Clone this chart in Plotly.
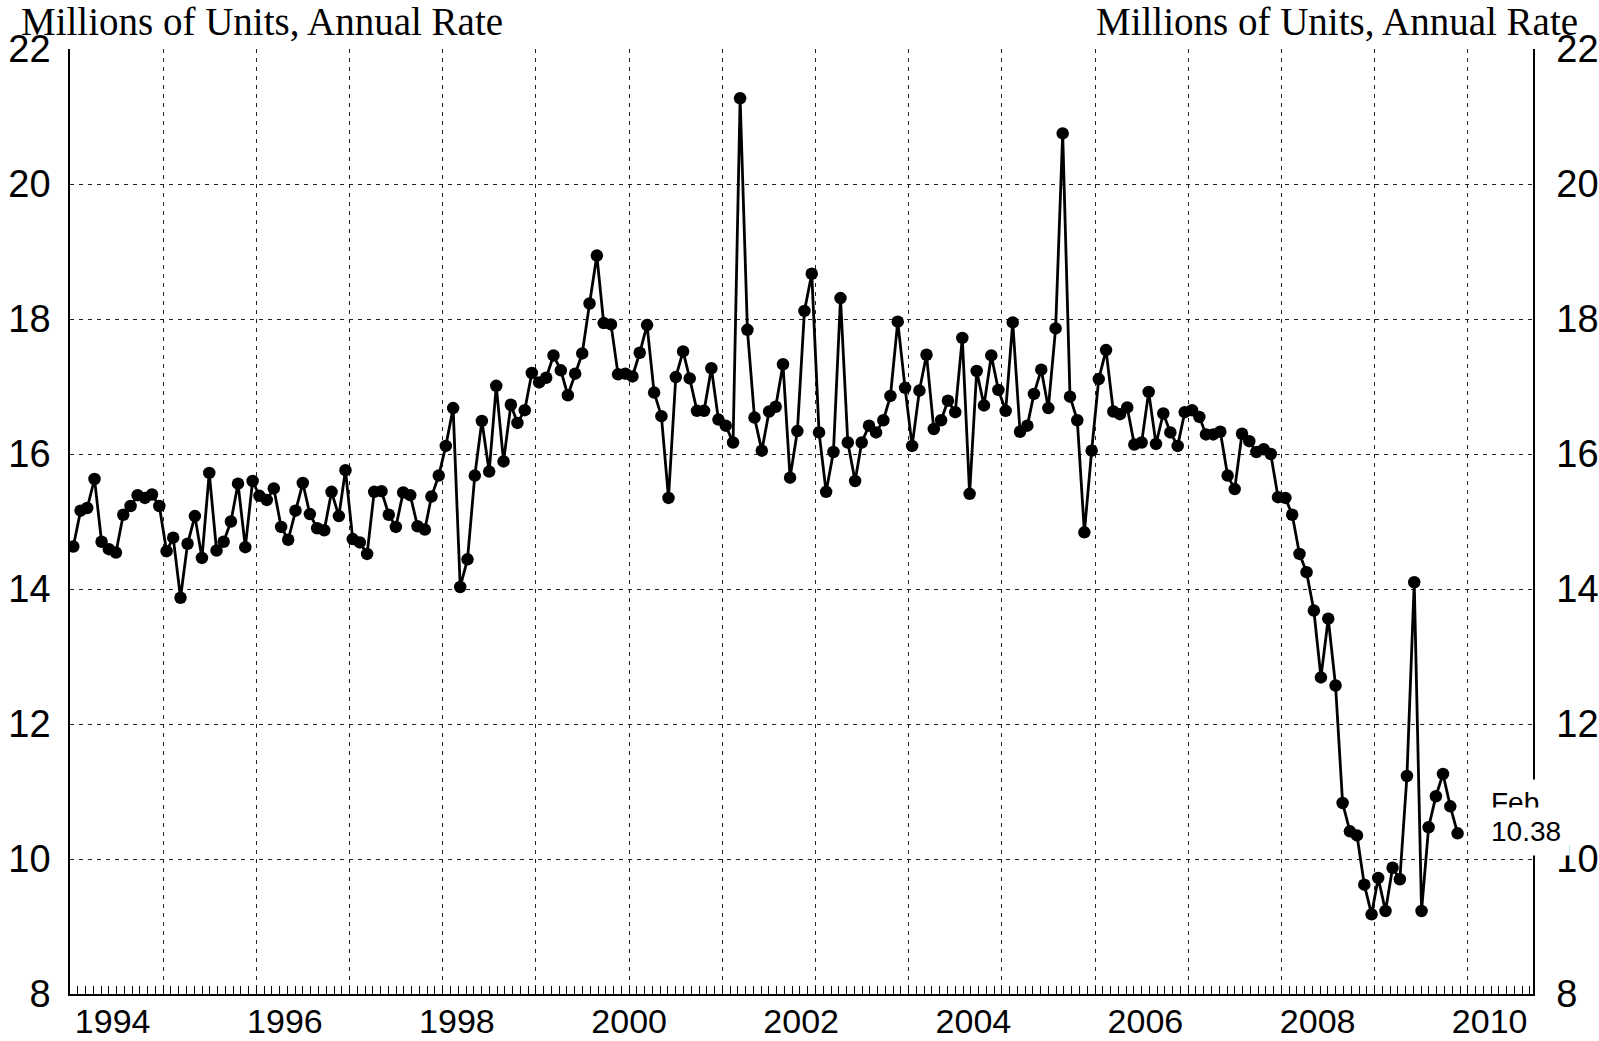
import plotly.graph_objects as go
import pandas as pd

# ---- data (monthly, Jan 1994 - Feb 2010) ----
start_month = "1994-01-01"
sales = [
    14.63, 15.16, 15.20, 15.63, 14.70, 14.59, 14.54, 15.10, 15.23, 15.39, 15.35, 15.40,
    15.23, 14.56, 14.76, 13.87, 14.67, 15.08, 14.46, 15.72, 14.57, 14.70, 15.00, 15.56,
    14.62, 15.60, 15.38, 15.32, 15.49, 14.92, 14.73, 15.16, 15.57, 15.11, 14.90, 14.87,
    15.44, 15.08, 15.76, 14.74, 14.69, 14.52, 15.44, 15.45, 15.10, 14.92, 15.43, 15.39,
    14.93, 14.88, 15.37, 15.68, 16.12, 16.68, 14.03, 14.44, 15.68, 16.49, 15.74, 17.01,
    15.89, 16.73, 16.46, 16.65, 17.20, 17.06, 17.13, 17.46, 17.24, 16.87, 17.19, 17.49,
    18.23, 18.94, 17.94, 17.92, 17.18, 17.19, 17.15, 17.50, 17.91, 16.91, 16.56, 15.35,
    17.14, 17.52, 17.12, 16.64, 16.64, 17.27, 16.51, 16.42, 16.17, 21.27, 17.84, 16.54,
    16.05, 16.63, 16.70, 17.33, 15.65, 16.34, 18.12, 18.67, 16.32, 15.44, 16.03, 18.31,
    16.17, 15.60, 16.17, 16.42, 16.32, 16.50, 16.86, 17.96, 16.98, 16.12, 16.94, 17.47,
    16.37, 16.50, 16.79, 16.62, 17.72, 15.41, 17.23, 16.72, 17.46, 16.95, 16.64, 17.95,
    16.33, 16.42, 16.89, 17.25, 16.68, 17.86, 20.75, 16.85, 16.50, 14.84, 16.05, 17.11,
    17.54, 16.63, 16.59, 16.69, 16.14, 16.17, 16.92, 16.15, 16.60, 16.32, 16.12, 16.62,
    16.65, 16.55, 16.29, 16.29, 16.33, 15.68, 15.48, 16.30, 16.19, 16.03, 16.07, 16.00,
    15.36, 15.35, 15.10, 14.52, 14.25, 13.68, 12.69, 13.56, 12.57, 10.83, 10.41, 10.35,
    9.62, 9.18, 9.72, 9.23, 9.87, 9.70, 11.23, 14.10, 9.23, 10.47, 10.93, 11.26,
    10.78, 10.38,
]
year_labels = ["1994", "1996", "1998", "2000", "2002", "2004", "2006", "2008", "2010"]
y_ticks = [8, 10, 12, 14, 16, 18, 20, 22]
unit_title = "Millions of Units, Annual Rate"
last_month_label = "Feb"
last_value_label = "10.38"

dates = pd.date_range(start_month, periods=len(sales), freq="MS") + pd.Timedelta(days=14)
label_pos = [f"{y}-07-01" for y in year_labels]

# page body margin is removed (post_script), so figure == window
W, H = 1599, 1041
# target plot box in page pixels: x 70.4..1532.9, y 49.3..994.3
ML, MT = 70.4, 49.3
MR = W - 1532.9
MB = H - 994.3
PW, PH = W - ML - MR, H - MT - MB

def px_x(p):  # page pixel -> paper x
    return (p - ML) / PW

def px_y(p):  # page pixel -> paper y
    return (H - MB - p) / PH

sans = "Liberation Sans, Arial, sans-serif"
serif = "Liberation Serif, Times New Roman, serif"

fig = go.Figure()
fig.add_trace(go.Scatter(
    x=dates, y=sales, mode="lines+markers",
    line=dict(color="black", width=2.8),
    marker=dict(color="black", size=12.5),
    showlegend=False, hoverinfo="x+y",
))
# helper trace so the overlay axes (grid/minor ticks, right labels) exist
fig.add_trace(go.Scatter(x=[None], y=[None], xaxis="x2", yaxis="y2",
                         showlegend=False, hoverinfo="skip"))

grid_dash = "4px,5px"
grid_col = "#222222"
fig.update_layout(
    width=W, height=H,
    margin=dict(l=ML, r=MR, t=MT, b=MB, pad=0, autoexpand=False),
    paper_bgcolor="white", plot_bgcolor="white",
    xaxis=dict(
        type="date", range=["1994-01-01", "2011-01-01"], automargin=False,
        showgrid=False, zeroline=False,
        tickmode="array", tickvals=label_pos, ticktext=year_labels,
        ticks="", ticklabelstandoff=-4,
        tickfont=dict(family=sans, size=34, color="black"),
        showline=True, linecolor="black", linewidth=1.5,
    ),
    xaxis2=dict(
        overlaying="x", anchor="y", side="bottom", automargin=False,
        range=[0, 15.70], tick0=0, dtick=1,
        showgrid=True, gridcolor=grid_col, gridwidth=1, griddash=grid_dash,
        showticklabels=False, zeroline=False,
        ticks="inside", ticklen=8, tickcolor="black", tickwidth=1,
        minor=dict(dtick=1 / 12, tick0=0, ticks="inside", ticklen=8,
                   tickcolor="black", tickwidth=1, showgrid=False),
    ),
    yaxis=dict(
        range=[8, 22], tickmode="array", tickvals=y_ticks, automargin=False,
        showgrid=True, gridcolor=grid_col, gridwidth=1, griddash=grid_dash,
        zeroline=False, ticks="", ticklabelstandoff=10,
        tickfont=dict(family=sans, size=38, color="black"),
        showline=True, linecolor="black", linewidth=1.5,
    ),
    yaxis2=dict(
        overlaying="y", anchor="x", side="right", automargin=False,
        range=[8, 22], tickmode="array", tickvals=y_ticks,
        showgrid=False, zeroline=False, ticks="", ticklabelstandoff=14,
        tickfont=dict(family=sans, size=38, color="black"),
        showline=True, linecolor="black", linewidth=1.5,
    ),
    annotations=[
        dict(text=unit_title, xref="paper", yref="paper",
             x=px_x(19), y=px_y(22), xanchor="left", yanchor="middle",
             showarrow=False, font=dict(family=serif, size=39, color="black")),
        dict(text=unit_title, xref="paper", yref="paper",
             x=px_x(1580), y=px_y(22), xanchor="right", yanchor="middle",
             showarrow=False, font=dict(family=serif, size=39, color="black")),
        dict(text=last_month_label, xref="paper", yref="paper",
             x=px_x(1483), y=px_y(803), xanchor="left", yanchor="middle",
             showarrow=False, bgcolor="white", borderpad=7,
             font=dict(family=sans, size=28, color="black")),
        dict(text=last_value_label, xref="paper", yref="paper",
             x=px_x(1482), y=px_y(832), xanchor="left", yanchor="middle",
             showarrow=False, bgcolor="white", borderpad=8,
             font=dict(family=sans, size=28, color="black")),
    ],
)

fig.write_html(
    "out.html",
    config={"displayModeBar": False},
    post_script="document.body.style.margin='0';document.body.style.overflow='hidden';",
)
